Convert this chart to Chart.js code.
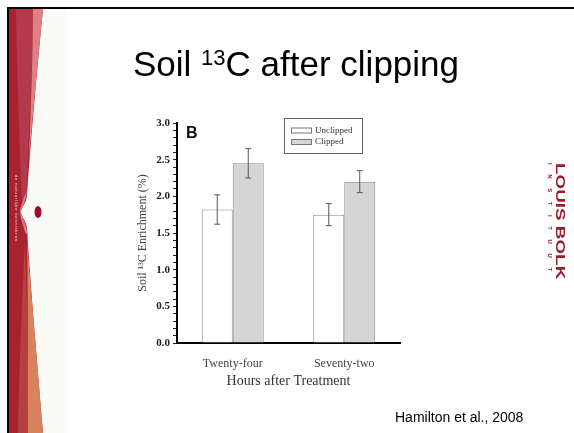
<!DOCTYPE html>
<html>
<head>
<meta charset="utf-8">
<script src="https://cdn.jsdelivr.net/npm/chart.js@4.4.0/dist/chart.umd.min.js"></script>
<style>
  html, body { margin: 0; padding: 0; background: #fff; }
  #slide { position: relative; width: 574px; height: 433px; overflow: hidden; background: #fff; }
  #deco { position: absolute; left: 0; top: 0; }
  #title { position: absolute; left: 133px; top: 40px; font: 35px "Liberation Sans", Arial, sans-serif; line-height: 35px; white-space: nowrap; color: #000; }
  #title .sup { font-size: 22px; vertical-align: 11px; }
  #chartBox { position: absolute; left: 100px; top: 100px; width: 320px; height: 300px; }
  #cite { position: absolute; left: 395px; top: 410px; font: 14px "Liberation Sans", Arial, sans-serif; line-height: 14px; color: #000; white-space: nowrap; }
  .rot { position: absolute; transform-origin: 0 0; white-space: nowrap; }
  #logo1 { left: 567px; top: 163px; font: bold 13px "Liberation Sans", Arial, sans-serif; line-height: 13px; color: #9a1d2e; transform: rotate(90deg) scaleX(1.45); transform-origin: 0 0; }
  #logo2 { left: 553px; top: 163px; font: bold 6px "Liberation Sans", Arial, sans-serif; line-height: 6px; color: #9a1d2e; letter-spacing: 9.6px; transform: rotate(90deg); }
  #slogan { left: 18px; top: 175px; font: 4px "Liberation Sans", Arial, sans-serif; line-height: 4px; color: #f6dede; letter-spacing: 0.9px; transform: rotate(90deg); }
</style>
</head>
<body>
<div id="slide">
  <canvas id="deco" width="574" height="433"></canvas>
  <div id="title">Soil <span class="sup">13</span>C after clipping</div>
  <div id="chartBox"><canvas id="chart" width="320" height="300"></canvas></div>
  <div id="cite">Hamilton et al., 2008</div>
  <div id="logo1" class="rot">LOUIS BOLK</div>
  <div id="logo2" class="rot">INSTITUUT</div>
  <div id="slogan" class="rot">de natuurlijke kennisbron</div>
</div>
<script>
// data
const categories = ['Twenty-four', 'Seventy-two'];
const seriesNames = ['Unclipped', 'Clipped'];
const unclipped = [1.82, 1.75];
const unclippedErr = [0.20, 0.15];
const clipped = [2.45, 2.20];
const clippedErr = [0.20, 0.15];
const yMin = 0, yMax = 3.0, yMajor = 0.5, yMinor = 0.1;

// slide background: frame + red band on the left
function drawDeco() {
    const c = document.getElementById('deco').getContext('2d');
    c.fillStyle = '#fafbf7';
    c.fillRect(9, 9, 56, 424);

    // band base (dark red) with the notch in the middle
    c.fillStyle = '#a8222f';
    c.beginPath();
    c.moveTo(9, 9);
    c.lineTo(43, 9);
    c.bezierCurveTo(36, 80, 30, 150, 27, 196);
    c.bezierCurveTo(26, 204, 21, 207, 21, 212);
    c.bezierCurveTo(21, 217, 26, 220, 27, 228);
    c.bezierCurveTo(30, 280, 37, 360, 43, 433);
    c.lineTo(9, 433);
    c.closePath();
    c.fill();

    // rose part on the top
    c.fillStyle = '#b3394c';
    c.beginPath();
    c.moveTo(16, 9);
    c.lineTo(34, 9);
    c.bezierCurveTo(31, 90, 28, 160, 26, 198);
    c.lineTo(22, 205);
    c.bezierCurveTo(20, 150, 17, 80, 16, 9);
    c.fill();

    // pink sliver on the top
    c.fillStyle = '#df8184';
    c.beginPath();
    c.moveTo(33, 9);
    c.lineTo(43, 9);
    c.bezierCurveTo(38, 60, 33, 110, 29, 160);
    c.bezierCurveTo(31, 100, 33, 50, 33, 9);
    c.fill();

    // light pink around the notch
    c.fillStyle = '#cf7c8c';
    c.beginPath();
    c.moveTo(27, 190);
    c.bezierCurveTo(26, 204, 21, 207, 21, 212);
    c.bezierCurveTo(21, 217, 26, 220, 28, 236);
    c.lineTo(25, 232);
    c.bezierCurveTo(22, 222, 20, 216, 20, 212);
    c.bezierCurveTo(20, 208, 23, 200, 27, 190);
    c.fill();

    // brown and orange parts on the bottom
    c.fillStyle = '#b5413f';
    c.beginPath();
    c.moveTo(18, 433);
    c.lineTo(29, 433);
    c.bezierCurveTo(28, 360, 27, 290, 25, 240);
    c.bezierCurveTo(22, 300, 19, 370, 18, 433);
    c.fill();

    c.fillStyle = '#d8825e';
    c.beginPath();
    c.moveTo(28, 433);
    c.lineTo(43, 433);
    c.bezierCurveTo(37, 360, 31, 290, 27, 240);
    c.bezierCurveTo(28, 300, 28, 370, 28, 433);
    c.fill();

    // dot in the notch
    c.fillStyle = '#9b0d26';
    c.beginPath();
    c.ellipse(38, 212, 3.5, 6, 0, 0, Math.PI * 2);
    c.fill();

    // frame
    c.fillStyle = '#000';
    c.fillRect(7, 7, 567, 2);
    c.fillRect(7, 7, 2, 426);
}
drawDeco();

const errorBars = {
    id: 'errorBars',
    afterDatasetsDraw(chart) {
        const ctx = chart.ctx;
        const y = chart.scales.y;
        chart.data.datasets.forEach((ds, i) => {
            const meta = chart.getDatasetMeta(i);
            meta.data.forEach((bar, j) => {
                const top = y.getPixelForValue(ds.data[j] + ds.errors[j]);
                const bot = y.getPixelForValue(ds.data[j] - ds.errors[j]);
                ctx.save();
                ctx.strokeStyle = '#555';
                ctx.lineWidth = 1;
                ctx.beginPath();
                ctx.moveTo(bar.x, top); ctx.lineTo(bar.x, bot);
                ctx.moveTo(bar.x - 3, top); ctx.lineTo(bar.x + 3, top);
                ctx.moveTo(bar.x - 3, bot); ctx.lineTo(bar.x + 3, bot);
                ctx.stroke();
                ctx.restore();
            });
        });
    }
};

// boxed legend inside the plot + the panel letter
const boxLegend = {
    id: 'boxLegend',
    afterDraw(chart) {
        const ctx = chart.ctx;
        const a = chart.chartArea;
        const bx = a.right - 116, by = a.top - 5, bw = 78, bh = 35;
        ctx.save();
        ctx.strokeStyle = '#666';
        ctx.lineWidth = 1;
        ctx.fillStyle = '#fff';
        ctx.fillRect(bx, by, bw, bh);
        ctx.strokeRect(bx + 0.5, by + 0.5, bw, bh);
        chart.data.datasets.forEach((ds, i) => {
            const cy = by + 12.5 + i * 11.5;
            ctx.fillStyle = ds.backgroundColor;
            ctx.fillRect(bx + 7, cy - 2, 20, 4);
            ctx.strokeStyle = '#777';
            ctx.strokeRect(bx + 7.5, cy - 2.5, 20, 5);
            ctx.fillStyle = '#333';
            ctx.font = '9px "Liberation Serif", "Times New Roman", serif';
            ctx.textBaseline = 'middle';
            ctx.fillText(ds.label, bx + 31, cy);
        });
        ctx.fillStyle = '#111';
        ctx.font = 'bold 16px "Liberation Sans", Arial, sans-serif';
        ctx.textBaseline = 'alphabetic';
        ctx.fillText('B', a.left + 9, a.top + 15);
        ctx.restore();
    }
};

const serif = '"Liberation Serif", "Times New Roman", serif';

new Chart(document.getElementById('chart').getContext('2d'), {
    type: 'bar',
    data: {
        labels: categories,
        datasets: [{
            label: seriesNames[0],
            data: unclipped,
            errors: unclippedErr,
            backgroundColor: '#ffffff',
            borderColor: '#8c8c8c',
            borderWidth: 1
        }, {
            label: seriesNames[1],
            data: clipped,
            errors: clippedErr,
            backgroundColor: '#d5d5d5',
            borderColor: '#8c8c8c',
            borderWidth: 1
        }]
    },
    options: {
        responsive: false,
        animation: false,
        devicePixelRatio: 1,
        categoryPercentage: 0.556,
        barPercentage: 1,
        layout: { padding: { left: 0, right: 20, top: 23, bottom: 9 } },
        plugins: {
            legend: { display: false },
            tooltip: { enabled: false }
        },
        scales: {
            x: {
                grid: { display: false },
                border: { display: true, color: '#000', width: 2 },
                ticks: { color: '#444', padding: 6, font: { family: serif, size: 12 } },
                title: { display: true, text: 'Hours after Treatment', color: '#333', padding: { top: 0, bottom: 1 }, font: { family: serif, size: 14 } },
                afterFit(scale) { scale.height = 48; }
            },
            y: {
                min: yMin,
                max: yMax,
                grid: { drawOnChartArea: false, tickLength: 4, color: '#222' },
                border: { display: true, color: '#000', width: 2 },
                ticks: {
                    stepSize: yMinor,
                    autoSkip: false,
                    maxTicksLimit: 100,
                    padding: 3,
                    color: '#222',
                    font: { family: serif, size: 11, weight: 'bold' },
                    callback: function (value) {
                        const k = value / yMajor;
                        return Math.abs(k - Math.round(k)) < 1e-6 ? value.toFixed(1) : '';
                    }
                },
                title: { display: true, text: 'Soil \u00b9\u00b3C Enrichment (%)', color: '#444', padding: { top: 36, bottom: 0 }, font: { family: serif, size: 12 } },
                afterFit(scale) { scale.width = 77; }
            }
        }
    },
    plugins: [errorBars, boxLegend]
});
</script>
</body>
</html>
